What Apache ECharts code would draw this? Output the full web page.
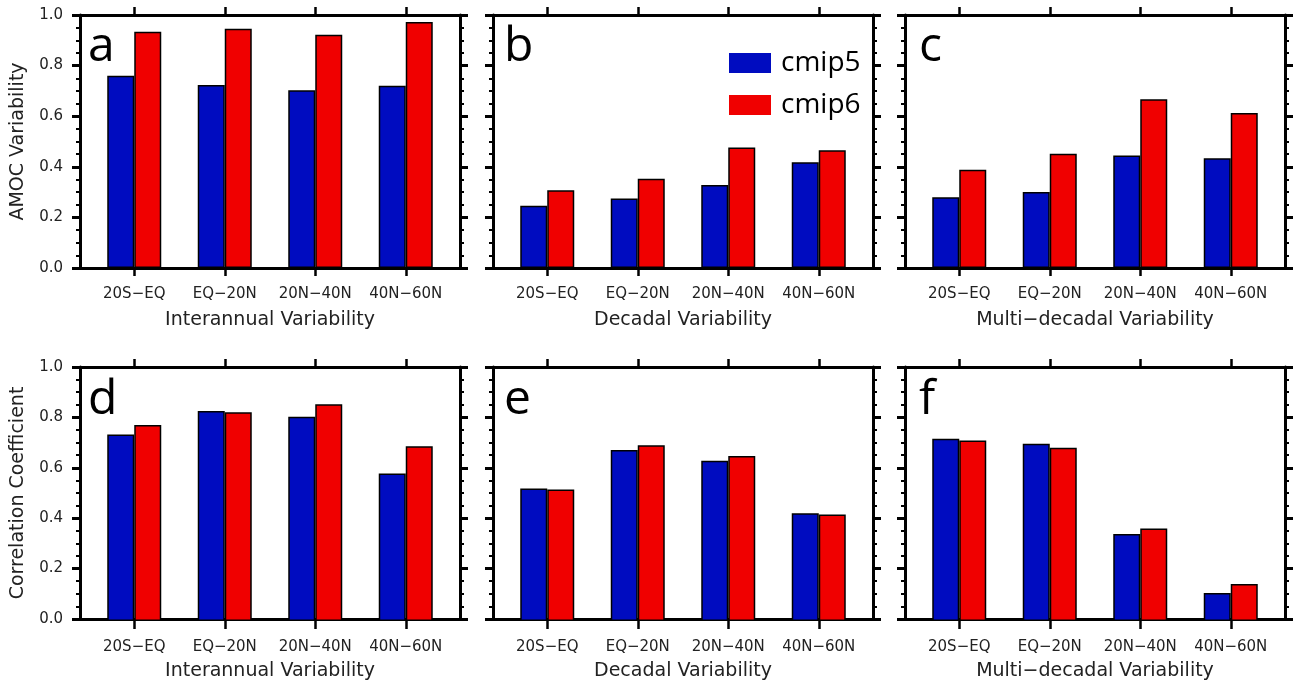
<!DOCTYPE html>
<html>
<head>
<meta charset="utf-8">
<script src="https://cdn.jsdelivr.net/npm/echarts@6/dist/echarts.min.js"></script>
<style>
html,body{margin:0;padding:0;background:#fff;}
#chart{width:1295px;height:682px;}
</style>
</head>
<body>
<div id="chart"></div>
<script>
// ---- data ----
const categories = ['20S−EQ', 'EQ−20N', '20N−40N', '40N−60N'];
const xTitles = ['Interannual Variability', 'Decadal Variability', 'Multi−decadal Variability'];
const yTitles = ['AMOC Variability', 'Correlation Coefficient'];
const panelLetters = ['a', 'b', 'c', 'd', 'e', 'f'];
const seriesNames = ['cmip5', 'cmip6'];

// AMOC variability (top row)
const a_cmip5 = [0.760, 0.723, 0.703, 0.720];
const a_cmip6 = [0.934, 0.946, 0.922, 0.972];
const b_cmip5 = [0.246, 0.275, 0.328, 0.418];
const b_cmip6 = [0.307, 0.353, 0.476, 0.465];
const c_cmip5 = [0.280, 0.300, 0.445, 0.434];
const c_cmip6 = [0.388, 0.452, 0.667, 0.613];
// Correlation coefficient (bottom row)
const d_cmip5 = [0.734, 0.827, 0.804, 0.581];
const d_cmip6 = [0.772, 0.822, 0.853, 0.688];
const e_cmip5 = [0.522, 0.673, 0.631, 0.424];
const e_cmip6 = [0.518, 0.692, 0.650, 0.419];
const f_cmip5 = [0.718, 0.698, 0.343, 0.110];
const f_cmip6 = [0.711, 0.682, 0.364, 0.146];

const panels = [
  [a_cmip5, a_cmip6], [b_cmip5, b_cmip6], [c_cmip5, c_cmip6],
  [d_cmip5, d_cmip6], [e_cmip5, e_cmip6], [f_cmip5, f_cmip6]
];

// ---- layout / style ----
const colLeft = [80, 493, 905];
const colWidth = 380;
const rowTop = [15, 367];
const rowHeight = [253, 254];
const innerInset = 9;
const colors = ['#000cc0', '#f00000'];
const letterDx = [8, 11, 14];
const letterDy = [8, 9];
const FONT = 'DejaVu Sans';

const grid = [], xAxis = [], yAxis = [], series = [], title = [];
function axisLine() { return { show: true, onZero: false, lineStyle: { color: '#000', width: 3 } }; }
function yMajorTick() { return { show: true, length: 8, lineStyle: { color: '#000', width: 3 } }; }
function minorTick() { return { show: true, splitNumber: 4, length: 4, lineStyle: { color: '#000', width: 2 } }; }
function xTick() { return { show: true, length: 8, alignWithLabel: true, interval: 0, lineStyle: { color: '#000', width: 2.5 } }; }

panels.forEach((pd, i) => {
  const col = i % 3, row = Math.floor(i / 3);
  const gFrame = 2 * i, gBars = 2 * i + 1;
  // frame grid
  grid.push({ left: colLeft[col], top: rowTop[row], width: colWidth, height: rowHeight[row] });
  // bars grid (category bands, slightly inset inside the frame)
  grid.push({ left: colLeft[col] + innerInset, top: rowTop[row], width: colWidth - 2 * innerInset, height: rowHeight[row] });

  xAxis.push({
    gridIndex: gFrame, type: 'value', position: 'bottom', min: 0, max: 1,
    axisLine: axisLine(), axisTick: { show: false }, axisLabel: { show: false }, splitLine: { show: false },
    name: xTitles[col], nameLocation: 'middle', nameGap: 43,
    nameTextStyle: { fontFamily: FONT, fontSize: 19, color: '#222' }
  });
  xAxis.push({
    gridIndex: gFrame, type: 'value', position: 'top', min: 0, max: 1,
    axisLine: axisLine(), axisTick: { show: false }, axisLabel: { show: false }, splitLine: { show: false }
  });
  yAxis.push({
    gridIndex: gFrame, type: 'value', position: 'left', min: 0, max: 1, interval: 0.2,
    axisLine: axisLine(), axisTick: yMajorTick(), minorTick: minorTick(),
    axisLabel: { show: col === 0, margin: 17, formatter: v => v.toFixed(1), fontFamily: FONT, fontSize: 15, color: '#222' },
    splitLine: { show: false }, minorSplitLine: { show: false },
    name: col === 0 ? yTitles[row] : '', nameLocation: 'middle', nameGap: 52, nameRotate: 90,
    nameTextStyle: { fontFamily: FONT, fontSize: 19, color: '#222' }
  });
  yAxis.push({
    gridIndex: gFrame, type: 'value', position: 'right', min: 0, max: 1, interval: 0.2,
    axisLine: axisLine(), axisTick: yMajorTick(), minorTick: minorTick(),
    axisLabel: { show: false }, splitLine: { show: false }, minorSplitLine: { show: false }
  });
  xAxis.push({
    gridIndex: gBars, type: 'category', position: 'bottom', data: categories,
    axisLine: { show: false, onZero: false },
    axisTick: xTick(),
    axisLabel: { show: true, interval: 0, margin: 19, fontFamily: FONT, fontSize: 15, color: '#222' },
    splitLine: { show: false }
  });
  xAxis.push({
    gridIndex: gBars, type: 'category', position: 'top', data: categories,
    axisLine: axisLine(),
    axisTick: xTick(),
    axisLabel: { show: false },
    splitLine: { show: false }
  });
  yAxis.push({
    gridIndex: gBars, type: 'value', min: 0, max: 1,
    axisLine: { show: false }, axisTick: { show: false }, axisLabel: { show: false }, splitLine: { show: false }
  });
  pd.forEach((vals, s) => {
    series.push({
      type: 'bar', name: seriesNames[s],
      xAxisIndex: 4 * i + 2, yAxisIndex: 3 * i + 2,
      data: vals, barWidth: 27, barGap: '0%',
      itemStyle: { color: colors[s], borderColor: '#000', borderWidth: 1.5 }
    });
  });
  title.push({
    text: panelLetters[i], left: colLeft[col] + letterDx[col], top: rowTop[row] + letterDy[row], padding: 0,
    textStyle: { fontFamily: 'Open Sans', fontSize: 48, fontWeight: 'normal', color: '#000' }
  });
});

const option = {
  animation: false, backgroundColor: '#fff', title: title,
  legend: {
    data: seriesNames, orient: 'vertical', left: 729, top: 49,
    itemWidth: 42, itemHeight: 20, itemGap: 14, padding: 0, icon: 'rect',
    itemStyle: { borderWidth: 0 },
    textStyle: { fontFamily: 'Open Sans', fontSize: 28, color: '#000', padding: [0, 0, 0, 5] }
  },
  grid: grid, xAxis: xAxis, yAxis: yAxis, series: series
};
const chart = echarts.init(document.getElementById('chart'), null, { renderer: 'canvas' });
chart.setOption(option);
</script>
</body>
</html>
